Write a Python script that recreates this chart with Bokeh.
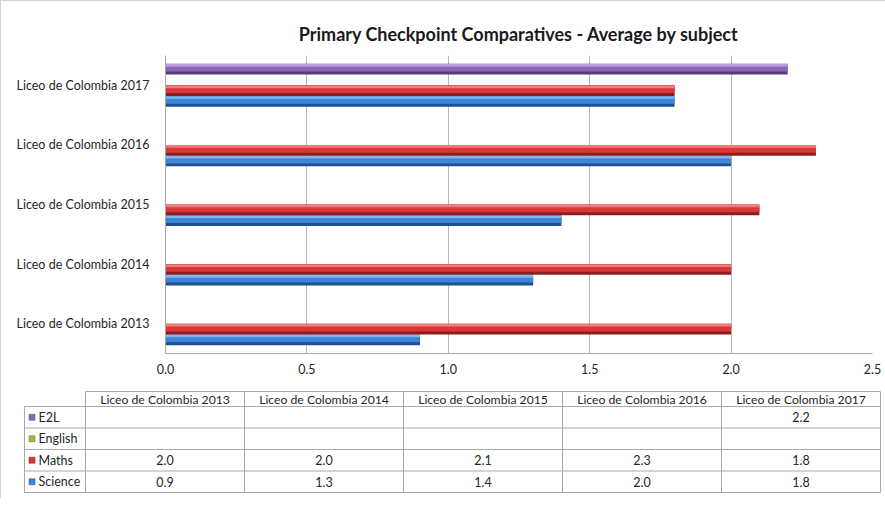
from bokeh.plotting import figure
from bokeh.layouts import column
from bokeh.models import (ColumnDataSource, FactorRange, Range1d, FixedTicker,
                          NumeralTickFormatter)
from bokeh.transform import dodge
from bokeh.embed import file_html
from bokeh.resources import INLINE

# ---------------- data ----------------
categories = ["Liceo de Colombia 2013", "Liceo de Colombia 2014",
              "Liceo de Colombia 2015", "Liceo de Colombia 2016",
              "Liceo de Colombia 2017"]
series_names = ["Science", "Maths", "English", "E2L"]
science = [0.9, 1.3, 1.4, 2.0, 1.8]
maths = [2.0, 2.0, 2.1, 2.3, 1.8]
english = [None, None, None, None, None]
e2l = [None, None, None, None, 2.2]
x_ticks = [0.0, 0.5, 1.0, 1.5, 2.0, 2.5]
title_text = "Primary Checkpoint Comparatives - Average by subject"

series_values = {"Science": science, "Maths": maths, "English": english, "E2L": e2l}
# (dark, base, light)
palette = {
    "Science": ("#1f4f94", "#3d85d6", "#7ab9f3"),
    "Maths": ("#8e1d1e", "#d8383a", "#f47b7b"),
    "English": ("#4f7a1d", "#8cc63f", "#b8e27a"),
    "E2L": ("#563d7a", "#8a68b8", "#b99be0"),
}
offsets = {"Science": -0.27, "Maths": -0.09, "English": 0.09, "E2L": 0.27}
BAR_H = 0.18

FONT = "Lato"
TXT = "#262626"
W = 884

# ---------------- chart ----------------
p1 = figure(width=W, height=385, output_backend="svg", toolbar_location=None,
            y_range=FactorRange(*categories, range_padding=0),
            x_range=Range1d(0, 2.5),
            min_border_left=164, min_border_right=13, min_border_top=54,
            min_border_bottom=33)
p1.outline_line_color = None
p1.background_fill_color = "white"
p1.border_fill_color = "white"

p1.title.text = title_text
p1.title.align = "center"
p1.title.text_font = FONT
p1.title.text_font_size = "18px"
p1.title.text_font_style = "bold"
p1.title.text_color = "#1a1a1a"
p1.title.standoff = 22

for name in series_names:
    vals = series_values[name]
    cats = [c for c, v in zip(categories, vals) if v is not None]
    vs = [v for v in vals if v is not None]
    if not vs:
        continue
    src = ColumnDataSource(dict(cat=cats, val=vs))
    dark, base, light = palette[name]
    off = offsets[name]
    p1.hbar(y=dodge("cat", off, range=p1.y_range), left=0, right="val",
            height=BAR_H, source=src, fill_color=dark, line_color=None)
    p1.hbar(y=dodge("cat", off + 0.015, range=p1.y_range), left=0, right="val",
            height=0.11, source=src, fill_color=base, line_color=None)
    p1.hbar(y=dodge("cat", off + 0.065, range=p1.y_range), left=0, right="val",
            height=0.045, source=src, fill_color=light, line_color=None)

p1.xaxis.ticker = FixedTicker(ticks=x_ticks)
p1.xaxis.formatter = NumeralTickFormatter(format="0.0")
for ax in (p1.xaxis[0], p1.yaxis[0]):
    ax.axis_line_color = "#a8a8a8"
    ax.major_tick_line_color = None
    ax.minor_tick_line_color = None
    ax.major_label_text_font = FONT
    ax.major_label_text_font_size = "12.5px"
    ax.major_label_text_color = TXT
p1.yaxis.major_label_standoff = 10
p1.xaxis.major_label_standoff = 4
p1.xgrid.grid_line_color = "#b8b8b8"
p1.ygrid.grid_line_color = None

# ---------------- data table ----------------
X0, X1 = 1, 1 + W
Y0, Y1 = 386, 498
p2 = figure(width=W, height=Y1 - Y0, output_backend="svg", toolbar_location=None,
            x_range=Range1d(X0, X1), y_range=Range1d(Y1, Y0),
            x_axis_type=None, y_axis_type=None,
            min_border_left=0, min_border_right=0, min_border_top=0,
            min_border_bottom=0)
p2.outline_line_color = None
p2.xgrid.grid_line_color = None
p2.ygrid.grid_line_color = None

leg_left, tab_left, tab_right = 24, 85, 880
head_top, head_bot = 391, 406
row_h = (492 - 406) / 4.0
col_w = (tab_right - tab_left) / len(categories)
row_names = ["E2L", "English", "Maths", "Science"]
row_tops = [head_bot + i * row_h for i in range(len(row_names))]
row_bot = head_bot + len(row_names) * row_h

LINE = "#a9a9a9"
# horizontal lines
hx0 = [tab_left] + [leg_left] * (len(row_names) + 1)
hx1 = [tab_right] * (len(row_names) + 2)
hy = [head_top] + row_tops + [row_bot]
p2.segment(x0=hx0, y0=hy, x1=hx1, y1=hy, line_color=LINE, line_width=1)
# vertical lines
col_edges = [tab_left + i * col_w for i in range(len(categories) + 1)]
vx = [leg_left] + col_edges
vy0 = [head_bot] + [head_top] * len(col_edges)
vy1 = [row_bot] * (len(col_edges) + 1)
p2.segment(x0=vx, y0=vy0, x1=vx, y1=vy1, line_color=LINE, line_width=1)

col_centers = [tab_left + (i + 0.5) * col_w for i in range(len(categories))]
p2.text(x=col_centers, y=[(head_top + head_bot) / 2.0] * len(categories),
        text=categories, text_align="center", text_baseline="middle",
        text_font={"value": FONT}, text_font_size={"value": "12.2px"},
        text_color=TXT)

row_mid = [t + row_h / 2.0 for t in row_tops]
p2.rect(x=[31.5] * len(row_names), y=row_mid, width=6, height=6,
        fill_color=[palette[n][1] for n in row_names],
        line_color=[palette[n][0] for n in row_names], line_width=0.5)
p2.text(x=[38] * len(row_names), y=row_mid, text=row_names,
        text_align="left", text_baseline="middle",
        text_font={"value": FONT}, text_font_size={"value": "12.5px"},
        text_color=TXT)

vx_, vy_, vt_ = [], [], []
for r, name in enumerate(row_names):
    for c, v in enumerate(series_values[name]):
        if v is None:
            continue
        vx_.append(col_centers[c])
        vy_.append(row_mid[r])
        vt_.append("%.1f" % v)
p2.text(x=vx_, y=vy_, text=vt_, text_align="center", text_baseline="middle",
        text_font={"value": FONT}, text_font_size={"value": "12.5px"},
        text_color=TXT)

top_block = column(p1, spacing=0,
                   styles={"border-left": "1px solid #d4d4d4",
                           "border-top": "1px solid #d4d4d4"})
bottom_block = column(p2, spacing=0,
                      styles={"border-left": "1px solid #d4d4d4"})

open("out.html", "w").write(file_html([top_block, bottom_block], INLINE))
